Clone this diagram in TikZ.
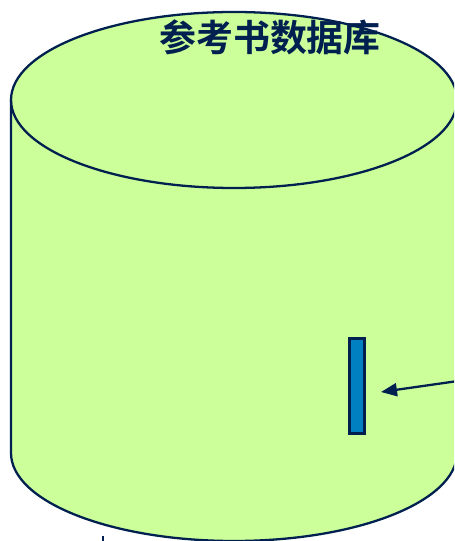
\documentclass[tikz,border=0pt]{standalone}
\usepackage{fontspec}
\newfontfamily\cjkbold{Noto Sans CJK SC Bold}
\definecolor{DbNavy}{RGB}{0, 32, 80}
\definecolor{DbGreen}{RGB}{204, 255, 153}
\definecolor{RecBlue}{RGB}{0, 128, 192}
\usetikzlibrary{arrows.meta, positioning, calc}

\begin{document}
\begin{tikzpicture}[x=0.02cm, y=0.02cm, >={Triangle[length=0.32cm, width=0.26cm]},
    dbline/.style={draw=DbNavy, line width=1.3pt},
    record/.style={draw=DbNavy, line width=1.3pt, fill=RecBlue, minimum width=0.3cm, minimum height=1.9cm, inner sep=0pt}]
    \useasboundingbox (0,0) rectangle (454,541);
    \clip (0,0) rectangle (454,541);
    % Cylinder
    \fill[DbGreen] (11,441) -- (11,88) arc[start angle=180, end angle=360, x radius=223, y radius=88]
        -- (457,441) arc[start angle=0, end angle=180, x radius=223, y radius=88] -- cycle;
    \draw[dbline] (234,441) ellipse[x radius=223, y radius=88];
    \draw[dbline] (11,441) -- (11,88) arc[start angle=180, end angle=360, x radius=223, y radius=88] -- (457,441);
    % Title and record
    \node[text=DbNavy, font=\cjkbold\fontsize{21}{24}\selectfont] (title) at (270,504) {参考书数据库};
    \node[record] (rec) at (357,155) {};
    \coordinate (src) at (458,160);
    \coordinate (tip) at (381,149);
    \draw[->, DbNavy, line width=1.3pt] (src) -- (tip);
    % stub below
    \coordinate (stubtop) at (103,5);
    \coordinate (stubend) at (103,-2);
    \draw[DbNavy, line width=1.3pt] (stubtop) -- (stubend);
\end{tikzpicture}
\end{document}
